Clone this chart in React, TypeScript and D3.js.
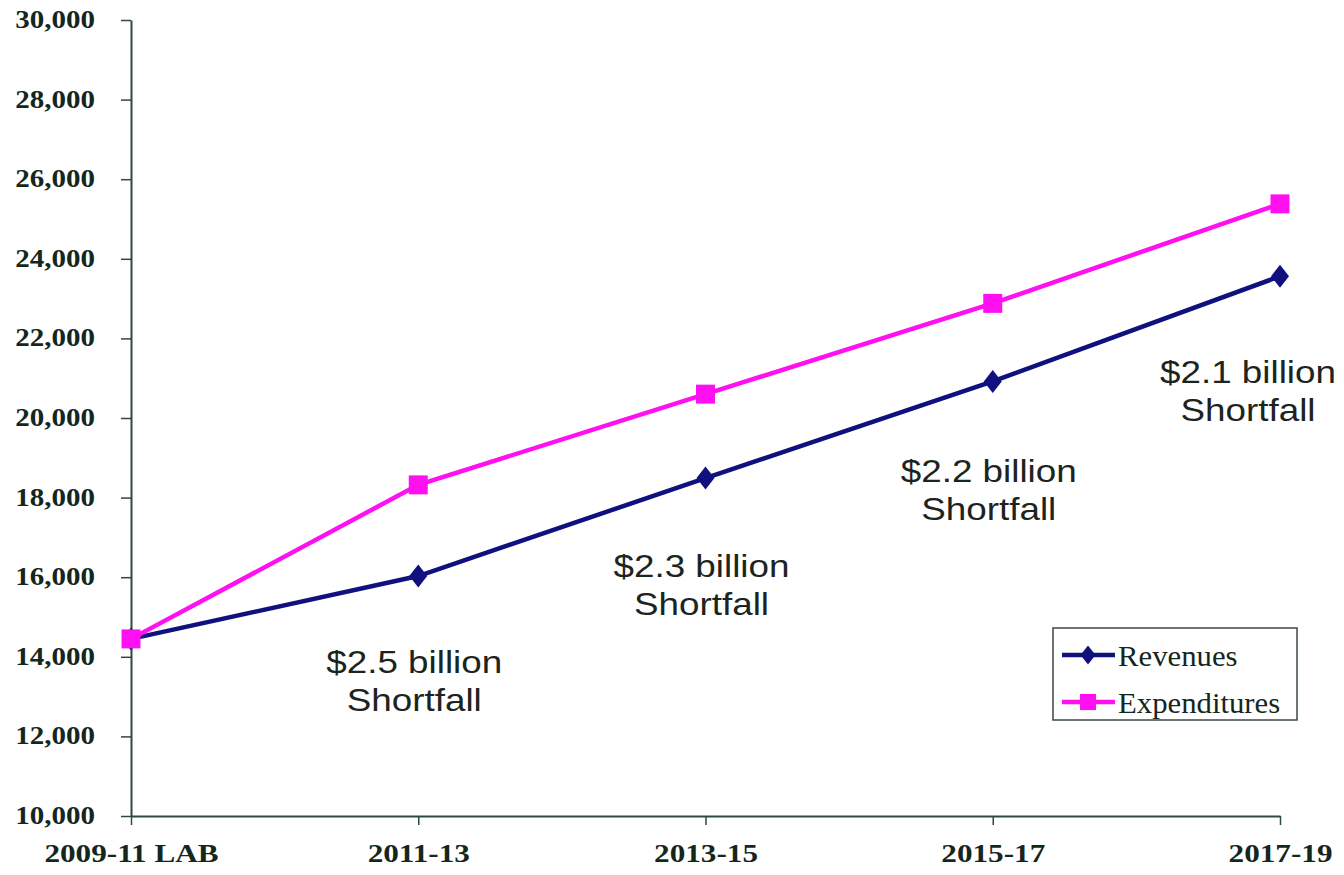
import { useEffect, useRef } from 'react'
import * as d3 from 'd3'

// Data
const periods = ['2009-11 LAB', '2011-13', '2013-15', '2015-17', '2017-19']
const revenues = [14450, 16030, 18490, 20920, 23560]
const expenditures = [14450, 18320, 20600, 22880, 25380]
const yTicks = [10000, 12000, 14000, 16000, 18000, 20000, 22000, 24000, 26000, 28000, 30000]
const annotations = [
  { period: '2011-13', lines: ['$2.5 billion', 'Shortfall'], dx: -4, y: 13590 },
  { period: '2013-15', lines: ['$2.3 billion', 'Shortfall'], dx: -4, y: 16000 },
  { period: '2015-17', lines: ['$2.2 billion', 'Shortfall'], dx: -4, y: 18390 },
  { period: '2017-19', lines: ['$2.1 billion', 'Shortfall'], dx: -32, y: 20880 },
]

const REV_COLOR = '#10107e'
const EXP_COLOR = '#ff10f0'
const AXIS_COLOR = '#2e4a3c'
const LABEL_COLOR = '#15271d'
const SERIF = '"Liberation Serif", "Times New Roman", serif'
const SANS = '"Liberation Sans", Arial, sans-serif'

// Losango mais largo que o d3.symbolDiamond
const wideDiamond = (w: number, h: number) => ({
  draw(ctx: any) {
    ctx.moveTo(0, -h / 2)
    ctx.lineTo(w / 2, 0)
    ctx.lineTo(0, h / 2)
    ctx.lineTo(-w / 2, 0)
    ctx.closePath()
  },
})

export default function App() {
  const svgRef = useRef<SVGSVGElement>(null)
  const width = 1344
  const height = 875

  useEffect(() => {
    const svg = d3.select(svgRef.current)
    svg.selectAll('*').remove()

    const margin = { top: 20, right: 64, bottom: 59, left: 131 }
    const innerWidth = width - margin.left - margin.right
    const innerHeight = height - margin.top - margin.bottom

    const x = d3.scalePoint().domain(periods).range([0, innerWidth])
    const y = d3.scaleLinear().domain([10000, 30000]).range([innerHeight, 0])

    const g = svg.append('g').attr('transform', `translate(${margin.left},${margin.top})`)

    // Eixo Y
    const ySx = 1.16
    const yAxis = g.append('g')
      .call(d3.axisLeft(y).tickValues(yTicks).tickFormat(d3.format(',')).tickSize(10).tickSizeOuter(0))
    yAxis.select('.domain').attr('stroke', AXIS_COLOR).attr('stroke-width', 2)
    yAxis.selectAll('.tick line').attr('stroke', AXIS_COLOR).attr('stroke-width', 1.5)
    yAxis.selectAll('.tick text')
      .attr('x', -36 / ySx)
      .attr('dy', '0.3em')
      .attr('transform', `scale(${ySx},1)`)
      .attr('fill', LABEL_COLOR)
      .style('font-family', SERIF)
      .style('font-weight', 'bold')
      .style('font-size', '25px')

    // Eixo X
    const xSx = 1.2
    const xAxis = g.append('g')
      .attr('transform', `translate(0,${innerHeight})`)
      .call(d3.axisBottom(x).tickSize(9).tickSizeOuter(0))
    xAxis.select('.domain').attr('stroke', AXIS_COLOR).attr('stroke-width', 2)
    xAxis.selectAll('.tick line').attr('stroke', AXIS_COLOR).attr('stroke-width', 1.5)
    xAxis.selectAll('.tick text')
      .attr('y', 46)
      .attr('dy', 0)
      .attr('transform', `scale(${xSx},1)`)
      .attr('fill', LABEL_COLOR)
      .style('font-family', SERIF)
      .style('font-weight', 'bold')
      .style('font-size', '26px')

    const line = d3.line<number>()
      .x((_, i) => x(periods[i]) as number)
      .y(d => y(d))

    // Linhas
    g.append('path').datum(revenues)
      .attr('fill', 'none').attr('stroke', REV_COLOR).attr('stroke-width', 4.5)
      .attr('d', line)
    g.append('path').datum(expenditures)
      .attr('fill', 'none').attr('stroke', EXP_COLOR).attr('stroke-width', 4.5)
      .attr('d', line)

    const diamond = d3.symbol().type(wideDiamond(18, 23) as any)
    const square = d3.symbol().type(d3.symbolSquare).size(360)

    // Marcadores
    g.selectAll('.rev-pt').data(revenues).enter().append('path')
      .attr('class', 'rev-pt')
      .attr('transform', (d, i) => `translate(${x(periods[i])},${y(d)})`)
      .attr('d', diamond)
      .attr('fill', REV_COLOR)
    g.selectAll('.exp-pt').data(expenditures).enter().append('path')
      .attr('class', 'exp-pt')
      .attr('transform', (d, i) => `translate(${x(periods[i])},${y(d)})`)
      .attr('d', square)
      .attr('fill', EXP_COLOR)

    // Anotações
    annotations.forEach(a => {
      const t = g.append('text')
        .attr('transform', `translate(${(x(a.period) as number) + a.dx},${y(a.y)}) scale(1.15,1)`)
        .attr('text-anchor', 'middle')
        .attr('fill', '#1c2420')
        .style('font-family', SANS)
        .style('font-size', '32px')
      a.lines.forEach((l, i) => {
        t.append('tspan')
          .attr('x', 0)
          .attr('dy', i === 0 ? 0 : 38)
          .text(l)
      })
    })

    // Legenda
    const legend = svg.append('g').attr('transform', 'translate(1053,628)')
    legend.append('rect')
      .attr('width', 244).attr('height', 92)
      .attr('fill', 'white').attr('stroke', '#3a4a40').attr('stroke-width', 1.5)
    const items = [
      { label: 'Revenues', color: REV_COLOR, sym: d3.symbol().type(wideDiamond(15, 19) as any) },
      { label: 'Expenditures', color: EXP_COLOR, sym: d3.symbol().type(d3.symbolSquare).size(260) },
    ]
    items.forEach((it, i) => {
      const row = legend.append('g').attr('transform', `translate(0,${27 + i * 47})`)
      row.append('line').attr('x1', 9).attr('x2', 62).attr('stroke', it.color).attr('stroke-width', 4.5)
      row.append('path').attr('transform', 'translate(35,0)').attr('d', it.sym).attr('fill', it.color)
      row.append('text')
        .attr('transform', 'translate(65,11) scale(1.06,1)')
        .attr('fill', LABEL_COLOR)
        .style('font-family', SERIF)
        .style('font-size', '29px')
        .text(it.label)
    })
  }, [])

  return (
    <svg ref={svgRef} width={width} height={height}
      style={{ position: 'absolute', left: 0, top: 0, background: 'white' }} />
  )
}
